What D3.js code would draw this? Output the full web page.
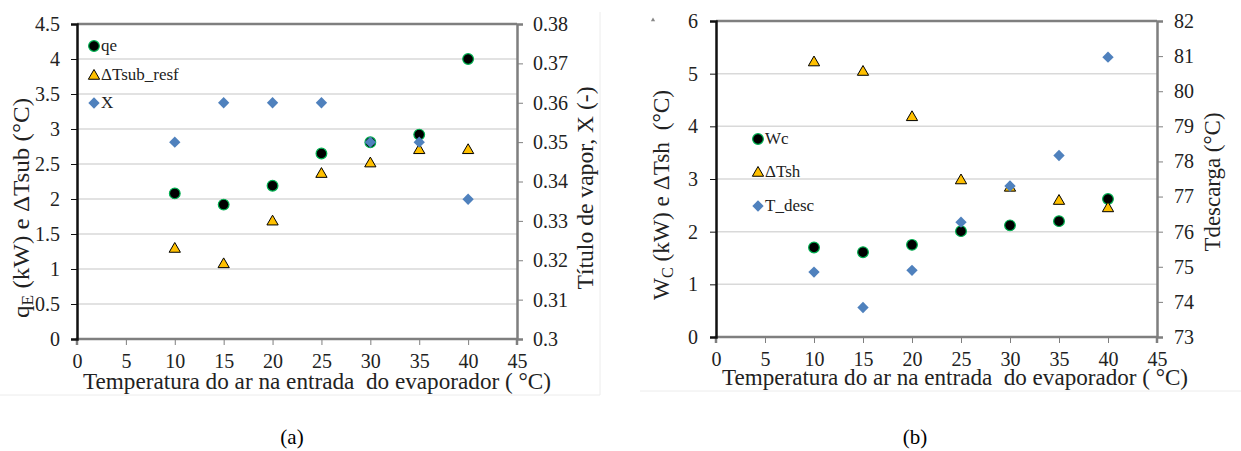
<!DOCTYPE html>
<html>
<head>
<meta charset="utf-8">
<script src="https://cdn.jsdelivr.net/npm/d3@7"></script>
<style>
  body { margin: 0; background: #fff; }
</style>
</head>
<body>
<script>
// dados
const temps = [10, 15, 20, 25, 30, 35, 40];

// (a)
const qe = [2.08, 1.92, 2.19, 2.65, 2.81, 2.92, 4.0];
const dTsub = [1.30, 1.08, 1.69, 2.37, 2.52, 2.71, 2.71];
const titulo = [0.350, 0.360, 0.360, 0.360, 0.350, 0.350, 0.3355];

// (b)
const wc = [1.70, 1.61, 1.75, 2.01, 2.12, 2.20, 2.62];
const dTsh = [5.23, 5.05, 4.19, 2.99, 2.85, 2.60, 2.46];
const tDesc = [74.85, 73.84, 74.90, 76.27, 77.30, 78.17, 80.97];

const xTicks = [0, 5, 10, 15, 20, 25, 30, 35, 40, 45];
const yTicksA = [0, 0.5, 1, 1.5, 2, 2.5, 3, 3.5, 4, 4.5];
const y2TicksA = [0.3, 0.31, 0.32, 0.33, 0.34, 0.35, 0.36, 0.37, 0.38];
const yTicksB = [0, 1, 2, 3, 4, 5, 6];
const y2TicksB = [73, 74, 75, 76, 77, 78, 79, 80, 81, 82];

const width = 1241, height = 451;
const FONT = 'Liberation Serif';

const svg = d3.select('body').append('svg')
    .attr('width', width)
    .attr('height', height)
    .attr('font-family', FONT);

// molduras claras dos gráficos
svg.append('path')
    .attr('d', 'M0,395H600V12')
    .attr('fill', 'none').attr('stroke', '#ececec').attr('stroke-width', 1);
svg.append('path')
    .attr('d', 'M640,391H1241')
    .attr('fill', 'none').attr('stroke', '#ececec').attr('stroke-width', 1);

const sym = {
    circle: d3.symbol().type(d3.symbolCircle).size(90),
    triangle: d3.symbol().type(d3.symbolTriangle).size(55),
    diamond: d3.symbol().type(d3.symbolSquare).size(64)
};

function marker(g, type, x, y) {
    let p = g.append('path').attr('d', sym[type]());
    if (type === 'circle') {
        p.attr('transform', `translate(${x},${y})`)
         .attr('fill', '#000').attr('stroke', '#00b050').attr('stroke-width', 1.2);
    } else if (type === 'triangle') {
        p.attr('transform', `translate(${x},${y + 1})`)
         .attr('fill', '#ffc000').attr('stroke', '#000').attr('stroke-width', 1);
    } else {
        p.attr('transform', `translate(${x},${y}) rotate(45)`)
         .attr('fill', '#4f81bd');
    }
    return p;
}

function title(g, x, y, len, rot) {
    return g.append('text')
        .attr('transform', `translate(${x},${y})` + (rot ? ' rotate(-90)' : ''))
        .attr('text-anchor', 'middle')
        .attr('font-family', FONT)
        .attr('font-size', 23).attr('fill', '#222')
        .attr('textLength', len)
        .attr('lengthAdjust', 'spacingAndGlyphs')
        .style('white-space', 'pre');
}

function panel(cfg) {
    const g = svg.append('g');
    const x = d3.scaleLinear().domain([0, 45]).range([cfg.left, cfg.right]);
    const y = d3.scaleLinear().domain(cfg.yDomain).range([cfg.bottom, cfg.top]);
    const y2 = d3.scaleLinear().domain(cfg.y2Domain).range([cfg.bottom, cfg.top]);

    // grade
    g.append('g').selectAll('line')
        .data(cfg.yTicks.slice(1, -1))
        .join('line')
        .attr('x1', cfg.left).attr('x2', cfg.right)
        .attr('y1', d => y(d)).attr('y2', d => y(d))
        .attr('stroke', '#d9d9d9').attr('stroke-width', 1.5);

    // borda superior
    g.append('line')
        .attr('x1', cfg.left).attr('x2', cfg.right)
        .attr('y1', cfg.top).attr('y2', cfg.top)
        .attr('stroke', '#7f7f7f').attr('stroke-width', 2.5);

    let ax = g.append('g')
        .attr('transform', `translate(0,${cfg.bottom})`)
        .call(d3.axisBottom(x).tickValues(xTicks).tickSize(6).tickPadding(9));
    let ay = g.append('g')
        .attr('transform', `translate(${cfg.left},0)`)
        .call(d3.axisLeft(y).tickValues(cfg.yTicks).tickFormat(cfg.fmt).tickSize(6).tickPadding(cfg.padL));
    let ay2 = g.append('g')
        .attr('transform', `translate(${cfg.right},0)`)
        .call(d3.axisRight(y2).tickValues(cfg.y2Ticks).tickFormat(cfg.fmt2).tickSize(6).tickPadding(cfg.padR));

    [ax, ay, ay2].forEach(a => {
        a.attr('font-family', FONT).attr('font-size', null);
        a.selectAll('text').attr('font-size', 20).attr('fill', '#222');
        a.selectAll('.domain').attr('stroke-width', 2.5);
    });
    ax.selectAll('line, .domain').attr('stroke', '#7f7f7f');
    ay2.selectAll('line, .domain').attr('stroke', '#7f7f7f');
    ay.selectAll('line, .domain').attr('stroke', '#111');
    ax.select('.domain').attr('d', `M${cfg.left},6V0H${cfg.right}V6`);

    // pontos
    const pts = g.append('g');
    temps.forEach((t, i) => marker(pts, 'circle', x(t), y(cfg.s1[i])));
    temps.forEach((t, i) => marker(pts, 'triangle', x(t), y(cfg.s2[i])));
    temps.forEach((t, i) => marker(pts, 'diamond', x(t), y2(cfg.s3[i])));

    // legenda
    cfg.legend.forEach((l, i) => {
        const ly = cfg.legY[i];
        marker(g, l.type, cfg.legX, ly);
        g.append('text')
            .attr('x', cfg.legX + 7).attr('y', ly + 5)
            .attr('font-family', FONT)
            .attr('font-size', 17).attr('fill', '#222')
            .text(l.label);
    });

    // títulos dos eixos
    title(g, cfg.xt[0], cfg.xt[1], cfg.xt[2], false)
        .text('Temperatura do ar na entrada  do evaporador ( °C)');

    cfg.yTitle(title(g, cfg.yt[0], cfg.yt[1], cfg.yt[2], true));

    title(g, cfg.y2t[0], cfg.y2t[1], cfg.y2t[2], true)
        .text(cfg.y2Title);

    g.append('text')
        .attr('x', cfg.capX).attr('y', 444)
        .attr('text-anchor', 'middle')
        .attr('font-family', FONT)
        .attr('font-size', 21).attr('fill', '#000')
        .text(cfg.caption);
    return g;
}

panel({
    left: 77, right: 517, top: 24, bottom: 339,
    yDomain: [0, 4.5], y2Domain: [0.3, 0.38],
    yTicks: yTicksA, y2Ticks: y2TicksA, padL: 11, padR: 10,
    fmt: d3.format(''), fmt2: d => d === 0.3 ? '0.3' : d3.format('.2f')(d),
    s1: qe, s2: dTsub, s3: titulo,
    legend: [{type: 'circle', label: 'qe'}, {type: 'triangle', label: 'ΔTsub_resf'}, {type: 'diamond', label: 'X'}],
    legX: 94, legY: [46, 75, 103],
    xt: [317, 389, 468],
    yt: [29, 208, 220],
    yTitle: t => {
        t.append('tspan').text('q');
        t.append('tspan').attr('font-size', 16).attr('dy', 4).text('E');
        t.append('tspan').attr('dy', -4).text(' (kW) e ΔTsub (°C)');
    },
    y2t: [593, 188, 203], y2Title: 'Título de vapor, X (-)',
    capX: 292, caption: '(a)'
});

panel({
    left: 716, right: 1157, top: 21, bottom: 337,
    yDomain: [0, 6], y2Domain: [73, 82],
    yTicks: yTicksB, y2Ticks: y2TicksB, padL: 12, padR: 11,
    fmt: d3.format(''), fmt2: d3.format(''),
    s1: wc, s2: dTsh, s3: tDesc,
    legend: [{type: 'circle', label: 'Wc'}, {type: 'triangle', label: 'ΔTsh'}, {type: 'diamond', label: 'T_desc'}],
    legX: 758, legY: [139, 172, 206],
    xt: [955, 385, 466],
    yt: [669, 195, 210],
    yTitle: t => {
        t.append('tspan').text('W');
        t.append('tspan').attr('font-size', 16).attr('dy', 4).text('C');
        t.append('tspan').attr('dy', -4).text(' (kW) e ΔTsh  (°C)');
    },
    y2t: [1220, 182, 139], y2Title: 'Tdescarga (°C)',
    capX: 915, caption: '(b)'
});

// pequena marca solta no canto do gráfico (b)
svg.append('path')
    .attr('d', d3.symbol().type(d3.symbolTriangle).size(8)())
    .attr('transform', 'translate(653,20)')
    .attr('fill', '#888');
</script>
</body>
</html>
